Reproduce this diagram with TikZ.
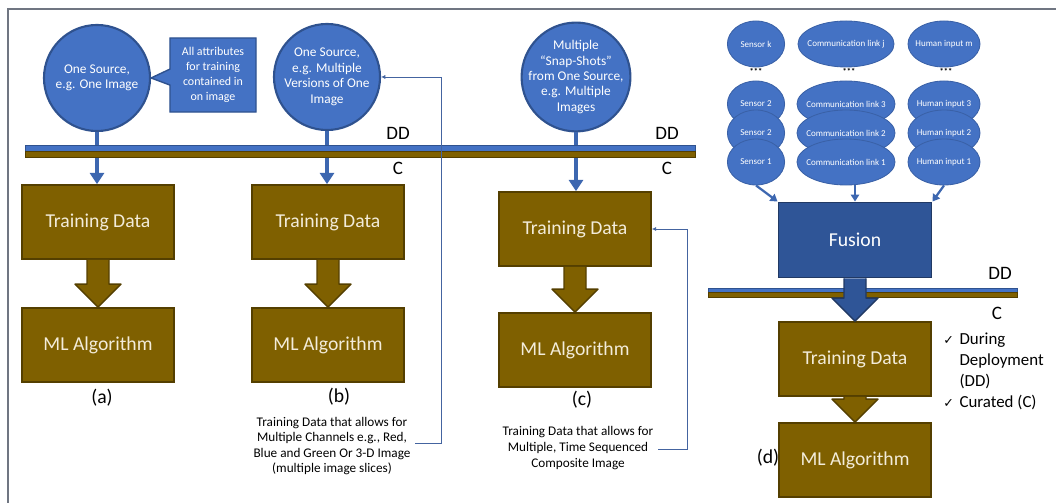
\documentclass[tikz,border=0pt]{standalone}
\usepackage{fontspec}
\setmainfont{Carlito}
\newfontfamily\checkFont{DejaVu Sans}
\usetikzlibrary{positioning, calc, arrows.meta, shapes.geometric, shapes.callouts}
\tikzstyle{pixelGrid} = [x = 0.025cm, y = -0.025cm]
\definecolor{sourceBlue}{RGB}{68,114,196}
\definecolor{sourceEdge}{RGB}{47,82,143}
\definecolor{fusionBlue}{RGB}{47,85,151}
\definecolor{goldFill}{RGB}{127,96,0}
\definecolor{goldEdge}{RGB}{84,63,0}
\definecolor{creamText}{RGB}{243,236,218}
\definecolor{frameGray}{RGB}{112,118,130}
\definecolor{linkBlue}{RGB}{68,100,160}
\tikzstyle{sourceCircle} = [circle, fill=sourceBlue, draw=sourceEdge, line width=1.5pt, minimum size=2.65cm, inner sep=0pt]
\tikzstyle{sourceText} = [text=white, align=center, font=\fontsize{9.5}{11}\selectfont]
\tikzstyle{calloutBox} = [rectangle callout, fill=sourceBlue, draw=sourceEdge, line width=1pt, minimum width=2.15cm, minimum height=1.85cm, callout pointer width=0.4cm, text=white, align=center, font=\fontsize{8.5}{10.6}\selectfont]
\tikzstyle{goldBox} = [rectangle, fill=goldFill, draw=goldEdge, line width=1.2pt, minimum width=3.8cm, minimum height=1.85cm, text=creamText, font=\fontsize{14}{16}\selectfont]
\tikzstyle{fusionBox} = [rectangle, fill=fusionBlue, draw=sourceEdge!70!black, line width=1.2pt, minimum width=3.83cm, minimum height=1.88cm, text=white, font=\fontsize{14}{16}\selectfont]
\tikzstyle{inputEllipse} = [ellipse, fill=sourceBlue, draw=sourceBlue!85!black, line width=0.6pt, minimum height=1.15cm, inner sep=0pt]
\tikzstyle{inputText} = [text=white, font=\fontsize{6.4}{7}\selectfont]
\tikzstyle{dotsText} = [inner sep=0pt, font=\fontsize{6}{6}\selectfont\bfseries]
\tikzstyle{sourceArrow} = [draw=sourceBlue!90!black, line width=2.8pt, -{Triangle[width=10pt, length=8pt]}]
\tikzstyle{inputArrow} = [draw=sourceBlue!90!black, line width=1.6pt, -{Triangle[width=6pt, length=5pt]}]
\tikzstyle{noteLink} = [draw=linkBlue, line width=0.6pt, -{Latex[length=3pt, width=3pt]}]
\tikzstyle{noteText} = [align=center, font=\fontsize{9.4}{11.1}\selectfont]
\tikzstyle{caseLabel} = [inner sep=0pt, font=\fontsize{14}{16}\selectfont]
\tikzstyle{barLabel} = [inner sep=0pt, font=\fontsize{13.5}{16}\selectfont]
\tikzstyle{checkText} = [inner sep=0pt, font=\fontsize{12}{15}\selectfont]
\tikzstyle{goldArrow} = [fill=goldFill, draw=goldEdge, line width=1pt, line join=round]
\tikzstyle{blueArrow} = [fill=fusionBlue, draw=sourceEdge!70!black, line width=1pt, line join=round]
\tikzstyle{frameLine} = [draw=frameGray, line width=1pt]
\newcommand{\checkMark}{{\checkFont\fontsize{9}{9}\selectfont ✓}}
\newcommand{\deploymentBar}[4]{
  \filldraw [fill=sourceBlue, draw=sourceEdge, line width=0.4pt] (#1, #3) rectangle (#2, #3 + #4);
  \filldraw [fill=goldFill, draw=goldEdge, line width=0.4pt] (#1, #3 + #4) rectangle (#2, #3 + 2 * #4);
}
\newcommand{\blockArrow}[3]{
  \filldraw [#1] ($(#2.south) + (-11, 0)$) -- ($(#3.north) + (-11, -23)$) -- ($(#3.north) + (-23, -23)$) -- (#3.north)
    -- ($(#3.north) + (23, -23)$) -- ($(#3.north) + (11, -23)$) -- ($(#2.south) + (11, 0)$);
}
\newcommand{\inputNode}[5]{\node [inputEllipse, minimum width = #4, label = {[inputText]center:#5}] (#1) at (#2, #3) {};}

\begin{document}
\begin{tikzpicture}[pixelGrid]
        \useasboundingbox (0, 0) rectangle (1056, 503);
        \draw [frameLine] (1056, 9) -- (8, 9) -- (8, 503);

        \node [sourceCircle] (circA) at (97, 78) {};
        \node [sourceText] (circAText) at (circA) {One Source,\\e.g. One Image};
        \node [calloutBox, callout absolute pointer = {(circA.east)}] (noteA) at (213, 75) {All attributes\\for training\\contained in\\on image};
        \node [sourceCircle] (circB) at (327, 77) {};
        \node [sourceText] (circBText) at (circB) {One Source,\\e.g. Multiple\\Versions of One\\Image};
        \node [sourceCircle, minimum size = 2.72cm] (circC) at (576, 77) {};
        \node [sourceText] (circCText) at (circC) {Multiple\\“Snap-Shots”\\from One Source,\\e.g. Multiple\\Images};

        \node [goldBox] (tdA) at (98, 222) {Training Data};
        \node [goldBox] (mlA) at (98, 345) {ML Algorithm};
        \node [goldBox] (tdB) at (328, 222) {Training Data};
        \node [goldBox] (mlB) at (328, 345) {ML Algorithm};
        \node [goldBox] (tdC) at (575, 229) {Training Data};
        \node [goldBox] (mlC) at (575, 350) {ML Algorithm};

        \draw [sourceArrow] (circA.south) -- (circA.south |- tdA.north);
        \draw [sourceArrow] (circB.south) -- (circB.south |- tdB.north);
        \draw [sourceArrow] (circC.south) -- (circC.south |- tdC.north);
        \deploymentBar{25}{695}{145}{6}
        \node [barLabel] (ddB) at (398, 133) {DD};
        \node [barLabel] (curB) at (398, 168) {C};
        \node [barLabel] (ddC) at (667, 133) {DD};
        \node [barLabel] (curC) at (667, 168) {C};

        \blockArrow{goldArrow}{tdA}{mlA}
        \blockArrow{goldArrow}{tdB}{mlB}
        \blockArrow{goldArrow}{tdC}{mlC}

        \node [caseLabel] (labA) at (102, 398) {(a)};
        \node [caseLabel] (labB) at (339, 397) {(b)};
        \node [caseLabel] (labC) at (582, 400) {(c)};

        \node [noteText] (noteB) at (332, 446) {Training Data that allows for\\Multiple Channels e.g., Red,\\Blue and Green Or 3-D Image\\(multiple image slices)};
        \coordinate (bendB) at (441, 443);
        \draw [noteLink] (noteB.east |- bendB) -- (bendB) |- (circB.east);
        \node [noteText] (noteC) at (578, 448) {Training Data that allows for\\Multiple, Time Sequenced\\Composite Image};
        \coordinate (bendC) at (687, 449);
        \draw [noteLink] (noteC.east |- bendC) -- (bendC) |- (tdC.east);

        \inputNode{sensorK}{756}{44}{1.43cm}{Sensor k}
        \inputNode{sensorC}{756}{104}{1.43cm}{Sensor 2}
        \inputNode{sensorB}{756}{133}{1.43cm}{Sensor 2}
        \inputNode{sensorA}{756}{162}{1.43cm}{Sensor 1}
        \inputNode{commJ}{846}{44}{2.4cm}{Communication link j}
        \inputNode{commC}{846}{104}{2.45cm}{Communication link 3}
        \inputNode{commB}{846}{133}{2.45cm}{Communication link 2}
        \inputNode{commA}{846}{162}{2.45cm}{Communication link 1}
        \inputNode{humanM}{944}{44}{1.8cm}{Human input m}
        \inputNode{humanC}{944}{104}{1.8cm}{Human input 3}
        \inputNode{humanB}{944}{133}{1.8cm}{Human input 2}
        \inputNode{humanA}{944}{162}{1.8cm}{Human input 1}
        \node [dotsText] (sensorDots) at (756, 71) {***};
        \node [dotsText] (commDots) at (849, 71) {***};
        \node [dotsText] (humanDots) at (946, 71) {***};

        \node [fusionBox] (fusion) at (855, 240) {Fusion};
        \draw [inputArrow] (sensorA.south) -- (fusion.north west);
        \draw [inputArrow] (commA.south -| fusion.north) -- (fusion.north);
        \draw [inputArrow] (humanA.south) -- (fusion.north east);

        \node [goldBox] (tdD) at (855, 359) {Training Data};
        \node [goldBox] (mlD) at (855, 460) {ML Algorithm};
        \deploymentBar{708}{1017}{288}{4.5}
        \node [barLabel] (ddD) at (1000, 273) {DD};
        \node [barLabel] (curD) at (997, 313) {C};
        \blockArrow{blueArrow}{fusion}{tdD}
        \blockArrow{goldArrow}{tdD}{mlD}
        \node [caseLabel] (labD) at (768, 458) {(d)};
        \node [checkText, anchor = north west] (checks) at (943, 329) {\begin{tabular}{@{}l@{\hspace{4pt}}l@{}}\checkMark & During\\ & Deployment\\ & (DD)\\ \checkMark & Curated (C)\end{tabular}};
      \end{tikzpicture}
\end{document}
